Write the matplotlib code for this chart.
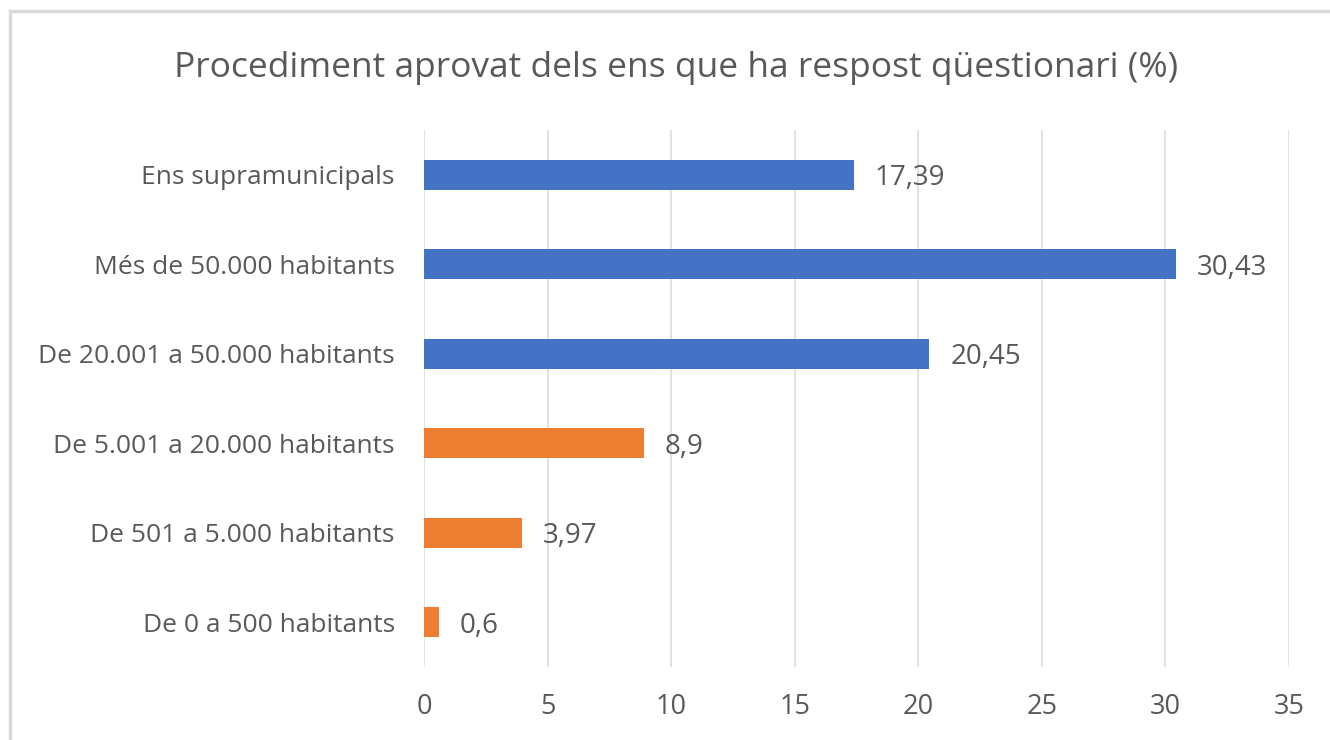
import matplotlib
matplotlib.use("Agg")
import matplotlib.pyplot as plt
from matplotlib.patches import Rectangle

categories = [
    "De 0 a 500 habitants",
    "De 501 a 5.000 habitants",
    "De 5.001 a 20.000 habitants",
    "De 20.001 a 50.000 habitants",
    "Més de 50.000 habitants",
    "Ens supramunicipals",
]
values = [0.6, 3.97, 8.9, 20.45, 30.43, 17.39]
value_labels = ["0,6", "3,97", "8,9", "20,45", "30,43", "17,39"]
groups = ["small", "small", "small", "large", "large", "large"]
xticks = [0, 5, 10, 15, 20, 25, 30, 35]

BLUE = "#4472C4"
ORANGE = "#ED7D31"
TEXT = "#595959"
GRID = "#DDDDDD"

plt.rcParams["font.family"] = ["Open Sans", "DejaVu Sans"]

fig = plt.figure(figsize=(13.3, 7.4), dpi=100)
fig.patch.set_facecolor("white")

# chart border (runs off the right and bottom edges)
fig.patches.append(Rectangle((10 / 1330, -0.05), 1.1, 1 - 11 / 740 + 0.05,
                             transform=fig.transFigure, fill=False,
                             edgecolor="#D9D9D9", linewidth=2.5))

ax = fig.add_axes([424 / 1330, 1 - 667 / 740, 865 / 1330, 537 / 740])

colors = [ORANGE if g == "small" else BLUE for g in groups]
ypos = list(range(len(categories)))
ax.barh(ypos, values, height=0.34, color=colors, zorder=3)

for y, v, lab in zip(ypos, values, value_labels):
    ax.annotate(lab, (v, y), xytext=(15, -2.5), textcoords="offset points",
                va="center", ha="left", fontsize=20, color=TEXT)

ax.set_xlim(0, 35)
ax.set_ylim(-0.5, len(categories) - 0.5)
ax.set_xticks(xticks)
ax.set_xticklabels([str(t) for t in xticks])
ax.set_yticks(ypos)
ax.set_yticklabels(categories)
ax.tick_params(axis="both", length=0, labelcolor=TEXT)
ax.tick_params(axis="y", pad=21, labelsize=19)
ax.tick_params(axis="x", pad=19, labelsize=19.5)

ax.grid(axis="x", color=GRID, linewidth=1.2, zorder=0)
for s in ax.spines.values():
    s.set_visible(False)

fig.text(0.508, 1 - 68 / 740, "Procediment aprovat dels ens que ha respost qüestionari (%)",
         ha="center", va="center", fontsize=25.5, color=TEXT)

fig.savefig("out.png", dpi=100, facecolor="white")
